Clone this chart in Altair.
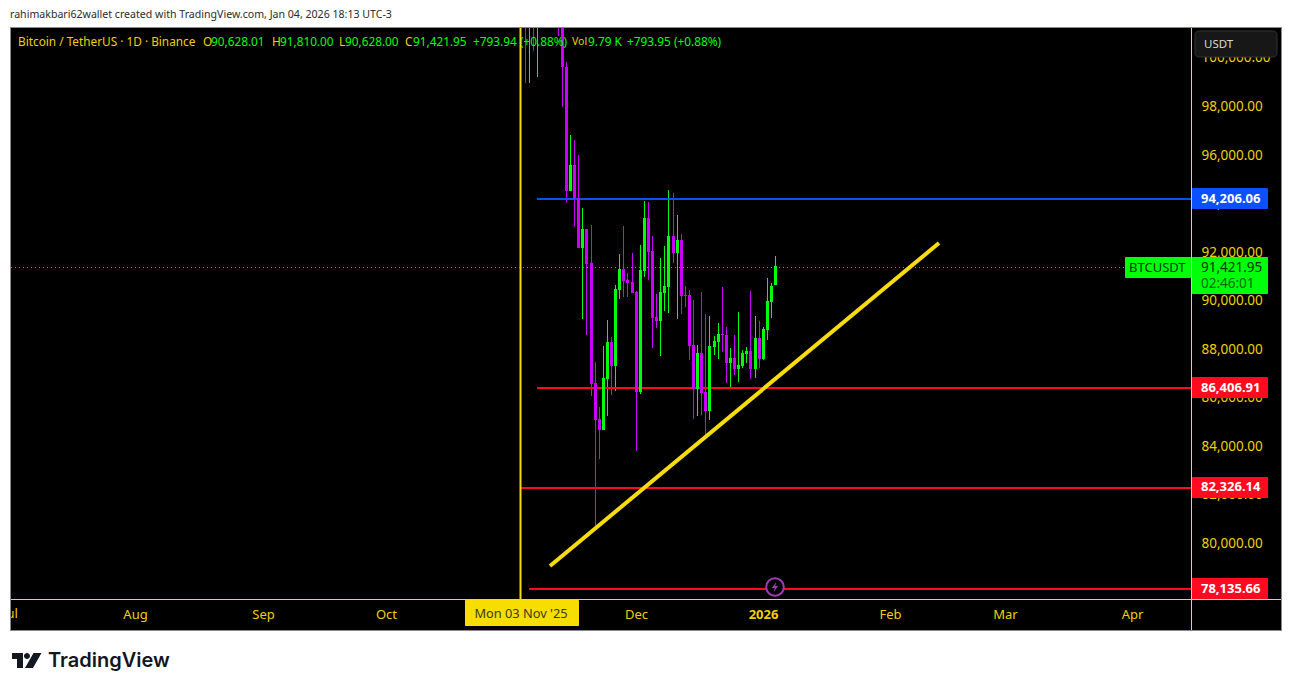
import altair as alt
import pandas as pd

# ---- data (oldest first, 4 Nov 2025 -> 4 Jan 2026)
opens = [106500,101500,103900,101300,103300,102300,104700,106000,103000,101600,99607,94500,95570,94211,92152,92934,91534,86592,85110,84656,86757,88280,87292,90422,91287,90834,90751,90340,86221,91205,93387,92028,89310,89145,90299,90545,92646,91946,92481,90216,90216,88157,86345,87828,86221,85439,88075,88280,88610,88569,87416,87622,87169,87292,87786,87910,87169,88445,87581,88775,89928,90628]
highs = [107300,104500,104200,104000,103400,105000,106600,107500,105300,104000,99812,96806,96600,95982,93799,92934,93099,87457,85603,88116,89186,88486,90628,91905,93058,91122,91946,90381,92275,94088,94046,92646,90257,91740,92234,94541,94417,93511,92728,90587,90422,90010,88157,90340,89434,89351,88528,89063,90545,88898,88033,88569,89516,87951,88075,90381,89351,89145,88898,90916,90710,91810]
lows = [98950,98950,100260,99195,101500,101500,104300,102500,100883,97959,94005,94500,93017,92152,89228,88569,86056,80537,83462,84656,85233,86098,86263,90051,90134,90134,90299,83790,86139,90958,90834,88033,88857,87704,89557,89475,91534,89228,89434,89722,87539,85110,85233,85274,84409,85068,87745,87581,87869,86592,86386,86919,86633,87210,87416,86757,86798,87210,87539,88363,89269,90628]
closes = [101500,103900,101300,103300,102300,104700,106000,103000,101600,99607,94500,95570,94211,92152,92934,91493,86551,85068,84656,86798,88280,87292,90463,91287,90793,90710,90299,86221,91246,93387,91987,89269,89145,90340,90587,92646,91946,92481,90175,90175,88116,86345,87828,86180,85439,88116,88322,88610,88569,87416,87622,87169,87334,87828,87910,87169,88445,87581,88816,89969,90587,91421.95]
dates = pd.date_range("2025-11-04", "2026-01-04", freq="D")
month_ticks = ["2025-08-01","2025-09-01","2025-10-01","2025-11-01","2025-12-01","2026-01-01","2026-02-01","2026-03-01","2026-04-01"]
price_ticks = [80000,82000,84000,86000,88000,90000,92000,94000,96000,98000,100000]
level_dates = ["2025-11-07","2025-11-07","2025-11-03","2025-11-05"]
level_prices = [94206.06,86406.91,82326.14,78135.66]
level_colors = ["#0a50ff","#ff0a1e","#ff0a1e","#ff0a1e"]
trend_dates = ["2025-11-10","2026-02-13"]
trend_prices = [79055,92358]
last_price = 91421.95

GREEN, MAGENTA, YELLOW, LINEY = "#00ff0a", "#cc00ff", "#f0d000", "#f8dc10"
FONT = "Noto Sans"

# ---- layout
W, H = 1180, 571
ms = lambda s: int(pd.Timestamp(s).value // 10**6)
DAY = 86400000
left = ms("2026-01-04") - int(764 / 4.1 * DAY)
right = left + int(W / 4.1 * DAY)
xs = alt.Scale(type="utc", domain=[left, right], round=True)
ys = alt.Scale(domain=[77696, 101213], round=True)

x_axis = alt.Axis(values=[ms(m) for m in month_ticks], title=None, grid=False, domain=False, ticks=False,
                  labelColor=YELLOW, labelFont=FONT, labelFontSize=13, labelPadding=9, labelOverlap=False,
                  labelFlush=False, labelBound=False, orient="bottom",
                  labelExpr="utcmonth(datum.value)==0 ? '2026' : utcFormat(datum.value,'%b')",
                  labelFontWeight={"condition": {"test": "utcmonth(datum.value)==0", "value": "bold"}, "value": "normal"})
y_axis = alt.Axis(values=price_ticks, title=None, grid=False, domain=False, ticks=False, orient="right",
                  format=",.2f", labelColor=YELLOW, labelFont=FONT, labelFontSize=13.5, labelPadding=10,
                  labelOverlap=False, labelBound=False, labelFlush=False)
X = alt.X("date:T", scale=xs, axis=x_axis)
Y = alt.Y("p:Q", scale=ys, axis=y_axis)
def py(p):  # plot y of a price for the labels tied to it
    return (101213 - p) / (101213 - 77696) * H

one = alt.Data(values=[{"a": 1}])
def rect(x0, y0, x1, y1, fill, **kw):
    return alt.Chart(one).mark_rect(fill=fill, **kw).encode(
        x=alt.value(x0 - 11), x2=alt.value(x1 - 11), y=alt.value(y0 - 28), y2=alt.value(y1 - 28))
def label(px, pyy, s, color, size=12, weight="normal", font=FONT, align="left"):
    return alt.Chart(one).mark_text(text=s, color=color, fontSize=size, fontWeight=weight, font=font,
                                    align=align, baseline="middle").encode(
        x=alt.value(px - 11), y=alt.value(pyy - 28))
def symbol(px, pyy, shape, size, fill=None, stroke=None, sw=0):
    kw = dict(shape=shape, size=size, opacity=1, strokeWidth=sw)
    if fill: kw.update(fill=fill, filled=True)
    if stroke: kw.update(stroke=stroke)
    return alt.Chart(one).mark_point(**kw).encode(x=alt.value(px - 11), y=alt.value(pyy - 28))

df = pd.DataFrame({"date": dates.strftime("%Y-%m-%d"), "o": opens, "h": highs, "l": lows, "c": closes})
df["up"] = df.c >= df.o
color = alt.condition("datum.up", alt.value(GREEN), alt.value(MAGENTA))

wicks = alt.Chart(df).mark_rule(strokeWidth=1, clip=True, xOffset=0.5).encode(
    x=X, y=alt.Y("l:Q", scale=ys, axis=y_axis), y2="h:Q", color=color)
bodies = alt.Chart(df).mark_rule(strokeWidth=3, clip=True, xOffset=0.5).encode(
    x=X, y=alt.Y("o:Q", scale=ys, axis=y_axis), y2="c:Q", color=color)

vline = alt.Chart(pd.DataFrame({"date": ["2025-11-03"]})).mark_rule(color=LINEY, strokeWidth=2, xOffset=-0.5).encode(x=X)
levels = pd.DataFrame({"date": level_dates, "end": [pd.Timestamp(right, unit="ms").isoformat()] * 4,
                       "p": level_prices, "col": level_colors})
level_rules = alt.Chart(levels).mark_rule(strokeWidth=2, clip=True, yOffset=1).encode(
    x=X, x2="end:T", y=Y, color=alt.Color("col:N", scale=None))
trend = alt.Chart(pd.DataFrame({"date": trend_dates, "p": trend_prices})).mark_line(
    color="#f8dc10", strokeWidth=4, strokeCap="butt").encode(x=X, y=Y)
last_line = alt.Chart(pd.DataFrame({"p": [last_price]})).mark_rule(
    color="#3fbf3f", strokeWidth=1, strokeDash=[1, 3], yOffset=1.5).encode(
    x=alt.value(0), x2=alt.value(1114), y=Y)

layers = [wicks, level_rules, vline, last_line, bodies, trend]

# separators of the panel
layers += [
    rect(1191, 28, 1192, 630, LINEY),
    rect(11, 599, 1281, 600, LINEY),
]

# lightning marker
layers += [
    symbol(775, 587, "circle", 310, fill="#000000", stroke="#a03bb5", sw=2),
    symbol(775, 587, "M0.25,-1 L-0.6,0.2 L-0.05,0.2 L-0.25,1 L0.6,-0.2 L0.05,-0.2 Z", 110, fill="#a03bb5"),
]

# date badge, and the month that the panel's left edge cuts
layers += [rect(465, 600, 579, 626, "#f8dd00", cornerRadius=1),
           label(521, 614, "Mon 03 Nov '25", "#3a3a20", 12.8, align="center"),
           label(10.5, 614, "Jul", YELLOW, 13, align="center")]

# price badges
for p, txt, col, tcol in [(94206.06, "94,206.06", "#0a50ff", "#ffffff"),
                          (86406.91, "86,406.91", "#ff0a1e", "#ffffff"),
                          (82326.14, "82,326.14", "#ff0a1e", "#ffffff"),
                          (78135.66, "78,135.66", "#ff0a1e", "#ffffff")]:
    yc = py(p) + 28
    layers += [rect(1192, round(yc) - 10, 1268, min(round(yc) + 11, 599), col, cornerRadius=1),
               label(1201, yc + 0.5, txt, tcol, 13, "bold")]

layers += [rect(1192, 257, 1268, 294, "#00ff0a", cornerRadius=1),
           rect(1125, 257, 1191, 278, "#00ff0a", cornerRadius=1),
           label(1201, 267.5, "91,421.95", "#063306", 13.5),
           label(1201, 284, "02:46:01", "#086a08", 13.5),
           label(1129, 268, "BTCUSDT", "#063306", 13)]

# currency button
layers += [alt.Chart(one).mark_rect(fill="#171717", stroke="#333333", strokeWidth=1, cornerRadius=4).encode(
               x=alt.value(1195 - 11), x2=alt.value(1277 - 11), y=alt.value(31 - 28), y2=alt.value(57 - 28)),
           label(1204, 45, "USDT", "#d8d8d8", 11.5)]

# status line
for px, s, c, sz in [
    (18, "Bitcoin / TetherUS · 1D · Binance", YELLOW, 11.8),
    (203, "O", YELLOW, 11.8), (211, "90,628.01", GREEN, 11.8),
    (272, "H", YELLOW, 11.8), (280, "91,810.00", GREEN, 11.8),
    (339, "L", YELLOW, 11.8), (345, "90,628.00", GREEN, 11.8),
    (405, "C", YELLOW, 11.8), (413, "91,421.95", GREEN, 11.8),
    (473, "+793.94", GREEN, 11.8), (520, "(+0.88%)", GREEN, 11.8),
    (572, "Vol", YELLOW, 10.5), (588, "9.79 K", GREEN, 11.8),
    (627, "+793.95", GREEN, 11.8), (674, "(+0.88%)", GREEN, 11.8),
]:
    layers.append(label(px, 42, s, c, sz))

# white page around the panel, with its grey edge
layers += [
    rect(0, 0, 1300, 27, "#ffffff"),
    rect(0, 631, 1300, 700, "#ffffff"),
    rect(0, 0, 10, 700, "#ffffff"),
    rect(1282, 0, 1300, 700, "#ffffff"),
    rect(10, 27, 1282, 28, "#8a8a8a"),
    rect(10, 630, 1282, 631, "#8a8a8a"),
    rect(10, 27, 11, 631, "#8a8a8a"),
    rect(1281, 27, 1282, 631, "#8a8a8a"),
    label(10, 15, "rahimakbari62wallet created with TradingView.com, Jan 04, 2026 18:13 UTC-3", "#2a2a2a", 10.6),
    symbol(26.5, 660.5,
           "M-0.967,-0.5 L-0.233,-0.5 L-0.233,0.5 L-0.633,0.5 L-0.633,-0.1 L-0.967,-0.1 Z "
           "M-0.167,-0.3 A0.2,0.2 0 1,1 0.233,-0.3 A0.2,0.2 0 1,1 -0.167,-0.3 Z "
           "M0.467,-0.5 L1,-0.5 L0.433,0.5 L-0.1,0.5 Z", 900, fill="#131722"),
    label(48, 661, "TradingView", "#131722", 20, 600, "Inter"),
]

chart = alt.layer(*layers).properties(
    width=W, height=H, background="#000000",
    padding={"left": 3, "top": 20, "right": 92, "bottom": 75},
    autosize=alt.AutoSizeParams(type="none"),
).configure_view(stroke=None)

chart.save("out.html", embed_options={"renderer": "svg", "actions": False})
